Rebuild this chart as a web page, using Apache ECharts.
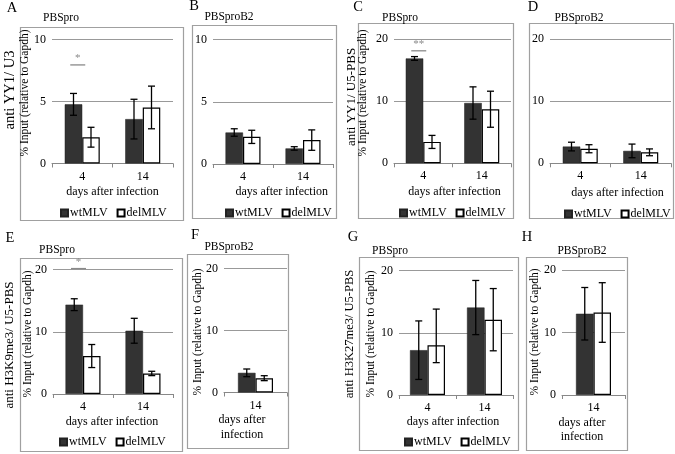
<!DOCTYPE html>
<html><head><meta charset="utf-8">
<script src="https://cdn.jsdelivr.net/npm/echarts@6/dist/echarts.min.js"></script>
<style>html,body{margin:0;padding:0;background:#fff}#c{width:675px;height:454px}</style>
</head><body><div id="c"></div>
<script>
// ---- data ----
const days2 = ['4', '14'];
const days1 = ['14'];
const names = ['wtMLV', 'delMLV'];
// error values: a number = symmetric, [below, above] = asymmetric
// A: anti YY1 / U3, PBSpro
const A_wt = [4.77, 3.58], A_wtErr = [0.88, 1.6], A_del = [2.12, 4.52], A_delErr = [0.8, 1.72];
// B: anti YY1 / U3, PBSproB2
const B_wt = [2.53, 1.25], B_wtErr = [0.3, 0.14], B_del = [2.18, 1.92], B_delErr = [0.53, 0.82];
// C: anti YY1 / U5-PBS, PBSpro
const C_wt = [16.87, 9.7], C_wtErr = [0.3, 2.6], C_del = [3.44, 8.7], C_delErr = [1.05, 2.9];
// D: anti YY1 / U5-PBS, PBSproB2
const D_wt = [2.7, 2.0], D_wtErr = [0.7, 1.1], D_del = [2.35, 1.77], D_delErr = [0.65, 0.55];
// E: anti H3K9me3 / U5-PBS, PBSpro
const E_wt = [14.35, 10.16], E_wtErr = [0.95, 2.0], E_del = [6.1, 3.3], E_delErr = [1.85, 0.35];
// F: anti H3K9me3 / U5-PBS, PBSproB2
const F_wt = [3.17], F_wtErr = [0.62], F_del = [2.31], F_delErr = [0.4];
// G: anti H3K27me3 / U5-PBS, PBSpro
const G_wt = [7.2, 14.05], G_wtErr = [4.7, 4.35], G_del = [8.0, 12.1], G_delErr = [[2.8, 5.8], 5.0];
// H: anti H3K27me3 / U5-PBS, PBSproB2
const H_wt = [13.0], H_wtErr = [4.2], H_del = [13.2], H_delErr = [4.77];
// y axis ticks
const yMaxA = 10, yStepA = 5, yMaxC = 20, yStepC = 10;
// significance marks: [category index, level, label]
const sigA = [[0, 7.95, '*']];
const sigC = [[0, 18.1, '**']];
const sigE = [[0, 20.15, '*']];

const FONT = "'Liberation Serif','Times New Roman',serif";
const BW = 17.5;

const panels = [
  {g:{left:52, top:39.5, width:121, height:124}, cats:days2, max:yMaxA, step:yStepA, wt:A_wt, wtE:A_wtErr, del:A_del, delE:A_delErr, sig:sigA},
  {g:{left:213, top:39.5, width:120, height:124.5}, cats:days2, max:yMaxA, step:yStepA, wt:B_wt, wtE:B_wtErr, del:B_del, delE:B_delErr},
  {g:{left:394, top:39, width:117, height:124.3}, cats:days2, max:yMaxC, step:yStepC, wt:C_wt, wtE:C_wtErr, del:C_del, delE:C_delErr, sig:sigC},
  {g:{left:550, top:39.3, width:121, height:124}, cats:days2, max:yMaxC, step:yStepC, wt:D_wt, wtE:D_wtErr, del:D_del, delE:D_delErr},
  {g:{left:53, top:269.5, width:120, height:124.5}, cats:days2, max:yMaxC, step:yStepC, wt:E_wt, wtE:E_wtErr, del:E_del, delE:E_delErr, sig:sigE},
  {g:{left:224, top:268.5, width:63, height:124}, cats:days1, max:yMaxC, step:yStepC, wt:F_wt, wtE:F_wtErr, del:F_del, delE:F_delErr},
  {g:{left:399, top:270.5, width:114, height:124.5}, cats:days2, max:yMaxC, step:yStepC, wt:G_wt, wtE:G_wtErr, del:G_del, delE:G_delErr},
  {g:{left:562, top:270, width:63, height:125}, cats:days1, max:yMaxC, step:yStepC, wt:H_wt, wtE:H_wtErr, del:H_del, delE:H_delErr}
];

const grid = [], xAxis = [], yAxis = [], series = [];
function errSeries(gi, vals, errs, off) {
  return {
    type: 'custom', xAxisIndex: gi, yAxisIndex: gi, z: 5, silent: true,
    data: vals.map((v, i) => {
      const e = errs[i];
      const lo = Array.isArray(e) ? e[0] : e, hi = Array.isArray(e) ? e[1] : e;
      return [i, v - lo, v + hi];
    }),
    encode: {x: 0, y: [1, 2]},
    renderItem(params, api) {
      const lo = api.coord([api.value(0), api.value(1)]);
      const hi = api.coord([api.value(0), api.value(2)]);
      const x = lo[0] + off, w = 3.5;
      const st = {stroke: '#000', lineWidth: 1.3};
      return {type: 'group', children: [
        {type: 'line', shape: {x1: x, y1: lo[1], x2: x, y2: hi[1]}, style: st},
        {type: 'line', shape: {x1: x - w, y1: lo[1], x2: x + w, y2: lo[1]}, style: st},
        {type: 'line', shape: {x1: x - w, y1: hi[1], x2: x + w, y2: hi[1]}, style: st}
      ]};
    }
  };
}
function sigSeries(gi, sig) {
  return {
    type: 'custom', xAxisIndex: gi, yAxisIndex: gi, z: 6, silent: true,
    data: sig.map(s => [s[0], s[1], s[2]]),
    renderItem(params, api) {
      const p = api.coord([api.value(0), api.value(1)]);
      const lab = sig[params.dataIndex][2];
      return {type: 'group', children: [
        {type: 'line', shape: {x1: p[0] - 12, y1: p[1], x2: p[0] + 3, y2: p[1]}, style: {stroke: '#8a8a8a', lineWidth: 1.3}},
        {type: 'text', style: {x: p[0] - 4.5, y: p[1] - 1, text: lab, fill: '#8a8a8a', font: '11px ' + FONT, textAlign: 'center', textVerticalAlign: 'bottom'}}
      ]};
    }
  };
}
panels.forEach((p, i) => {
  grid.push(Object.assign({containLabel: false}, p.g));
  xAxis.push({type: 'category', gridIndex: i, data: p.cats,
    axisLine: {lineStyle: {color: '#888', width: 1}},
    axisTick: {show: true, length: 4, lineStyle: {color: '#888'}},
    axisLabel: {color: '#000', fontFamily: FONT, fontSize: 12, margin: 7}});
  yAxis.push({type: 'value', gridIndex: i, min: 0, max: p.max, interval: p.step,
    axisLine: {show: false}, axisTick: {show: false},
    splitLine: {lineStyle: {color: '#999', width: 1}},
    axisLabel: {color: '#000', fontFamily: FONT, fontSize: 12, margin: 6}});
  series.push({type: 'bar', name: names[0], xAxisIndex: i, yAxisIndex: i, data: p.wt, barWidth: BW, barGap: '0%',
    itemStyle: {color: '#333333', borderColor: '#222', borderWidth: 0.5}, silent: true});
  series.push({type: 'bar', name: names[1], xAxisIndex: i, yAxisIndex: i, data: p.del, barWidth: BW, barGap: '0%',
    itemStyle: {color: '#ffffff', borderColor: '#000', borderWidth: 1.2}, silent: true});
  series.push(errSeries(i, p.wt, p.wtE, -BW / 2));
  series.push(errSeries(i, p.del, p.delE, BW / 2));
  if (p.sig) series.push(sigSeries(i, p.sig));
});

function legendAt(left, top) {
  return {left: left, top: top, width: 110, padding: 0, orient: 'horizontal', data: names, icon: 'rect',
    itemWidth: 7, itemHeight: 7, itemGap: 9, selectedMode: false,
    textStyle: {fontFamily: FONT, fontSize: 12, color: '#000', padding: [0, 0, 0, -3]}};
}
const legend = [legendAt(60, 207), legendAt(225, 207), legendAt(399, 207), legendAt(564, 208), legendAt(59, 436), legendAt(404, 436)];

function T(x, y, text, size, opts) {
  return Object.assign({type: 'text', x: x, y: y, silent: true,
    style: {text: text, font: size + 'px ' + FONT, fill: '#000', textAlign: 'center', textVerticalAlign: 'middle'}}, opts || {});
}
function V(x, y, text, size) { return T(x, y, text, size, {rotation: Math.PI / 2}); }
function box(x1, y1, x2, y2) {
  return {type: 'rect', silent: true, shape: {x: x1 + 0.5, y: y1 + 0.5, width: x2 - x1, height: y2 - y1},
    style: {fill: null, stroke: '#a0a0a0', lineWidth: 1.2}, z: -1};
}
const IN = '% Input (relative to Gapdh)';
const DAI = 'days after infection';
const graphic = [
  box(20, 27, 183, 220), box(192, 25, 336, 218), box(358, 23, 513, 218), box(529, 23, 673, 218),
  box(20, 258, 182, 451), box(187, 254, 288, 448), box(359, 257, 518, 450), box(526, 257, 627, 450),
  T(12, 8, 'A', 14.5), T(194, 6, 'B', 14.5), T(358, 7, 'C', 14.5), T(533, 7, 'D', 14.5),
  T(10, 238, 'E', 14.5), T(195, 235, 'F', 14.5), T(353, 237, 'G', 14.5), T(527, 237, 'H', 14.5),
  T(61, 18, 'PBSpro', 11.5), T(229, 17, 'PBSproB2', 11.5), T(400, 18, 'PBSpro', 11.5), T(579, 18, 'PBSproB2', 11.5),
  T(57, 250, 'PBSpro', 11.5), T(229, 247, 'PBSproB2', 11.5), T(390, 251, 'PBSpro', 11.5), T(582, 251, 'PBSproB2', 11.5),
  V(10, 90, 'anti YY1/ U3', 14.5), V(352, 97, 'anti YY1/ U5-PBS', 13),
  V(10, 345, 'anti H3K9me3/ U5-PBS', 13), V(350, 334, 'anti H3K27me3/ U5-PBS', 12.5),
  V(25, 93, IN, 11.5), V(363, 93, IN, 11.5), V(28, 334, IN, 11.5), V(198, 332, IN, 11.5), V(371, 334, IN, 11.5), V(535, 332, IN, 11.5),
  T(112.5, 192, DAI, 12), T(281.7, 192, DAI, 12), T(454.5, 192, DAI, 12), T(617.5, 193, DAI, 12),
  T(112, 421.7, DAI, 12), T(453, 421.7, DAI, 12),
  T(242, 420, 'days after', 12), T(242, 435, 'infection', 12),
  T(582, 423, 'days after', 12), T(582, 437, 'infection', 12)
];

const chart = echarts.init(document.getElementById('c'), null, {renderer: 'canvas'});
chart.setOption({animation: false, backgroundColor: '#fff', grid, xAxis, yAxis, series, legend, graphic});
</script></body></html>
